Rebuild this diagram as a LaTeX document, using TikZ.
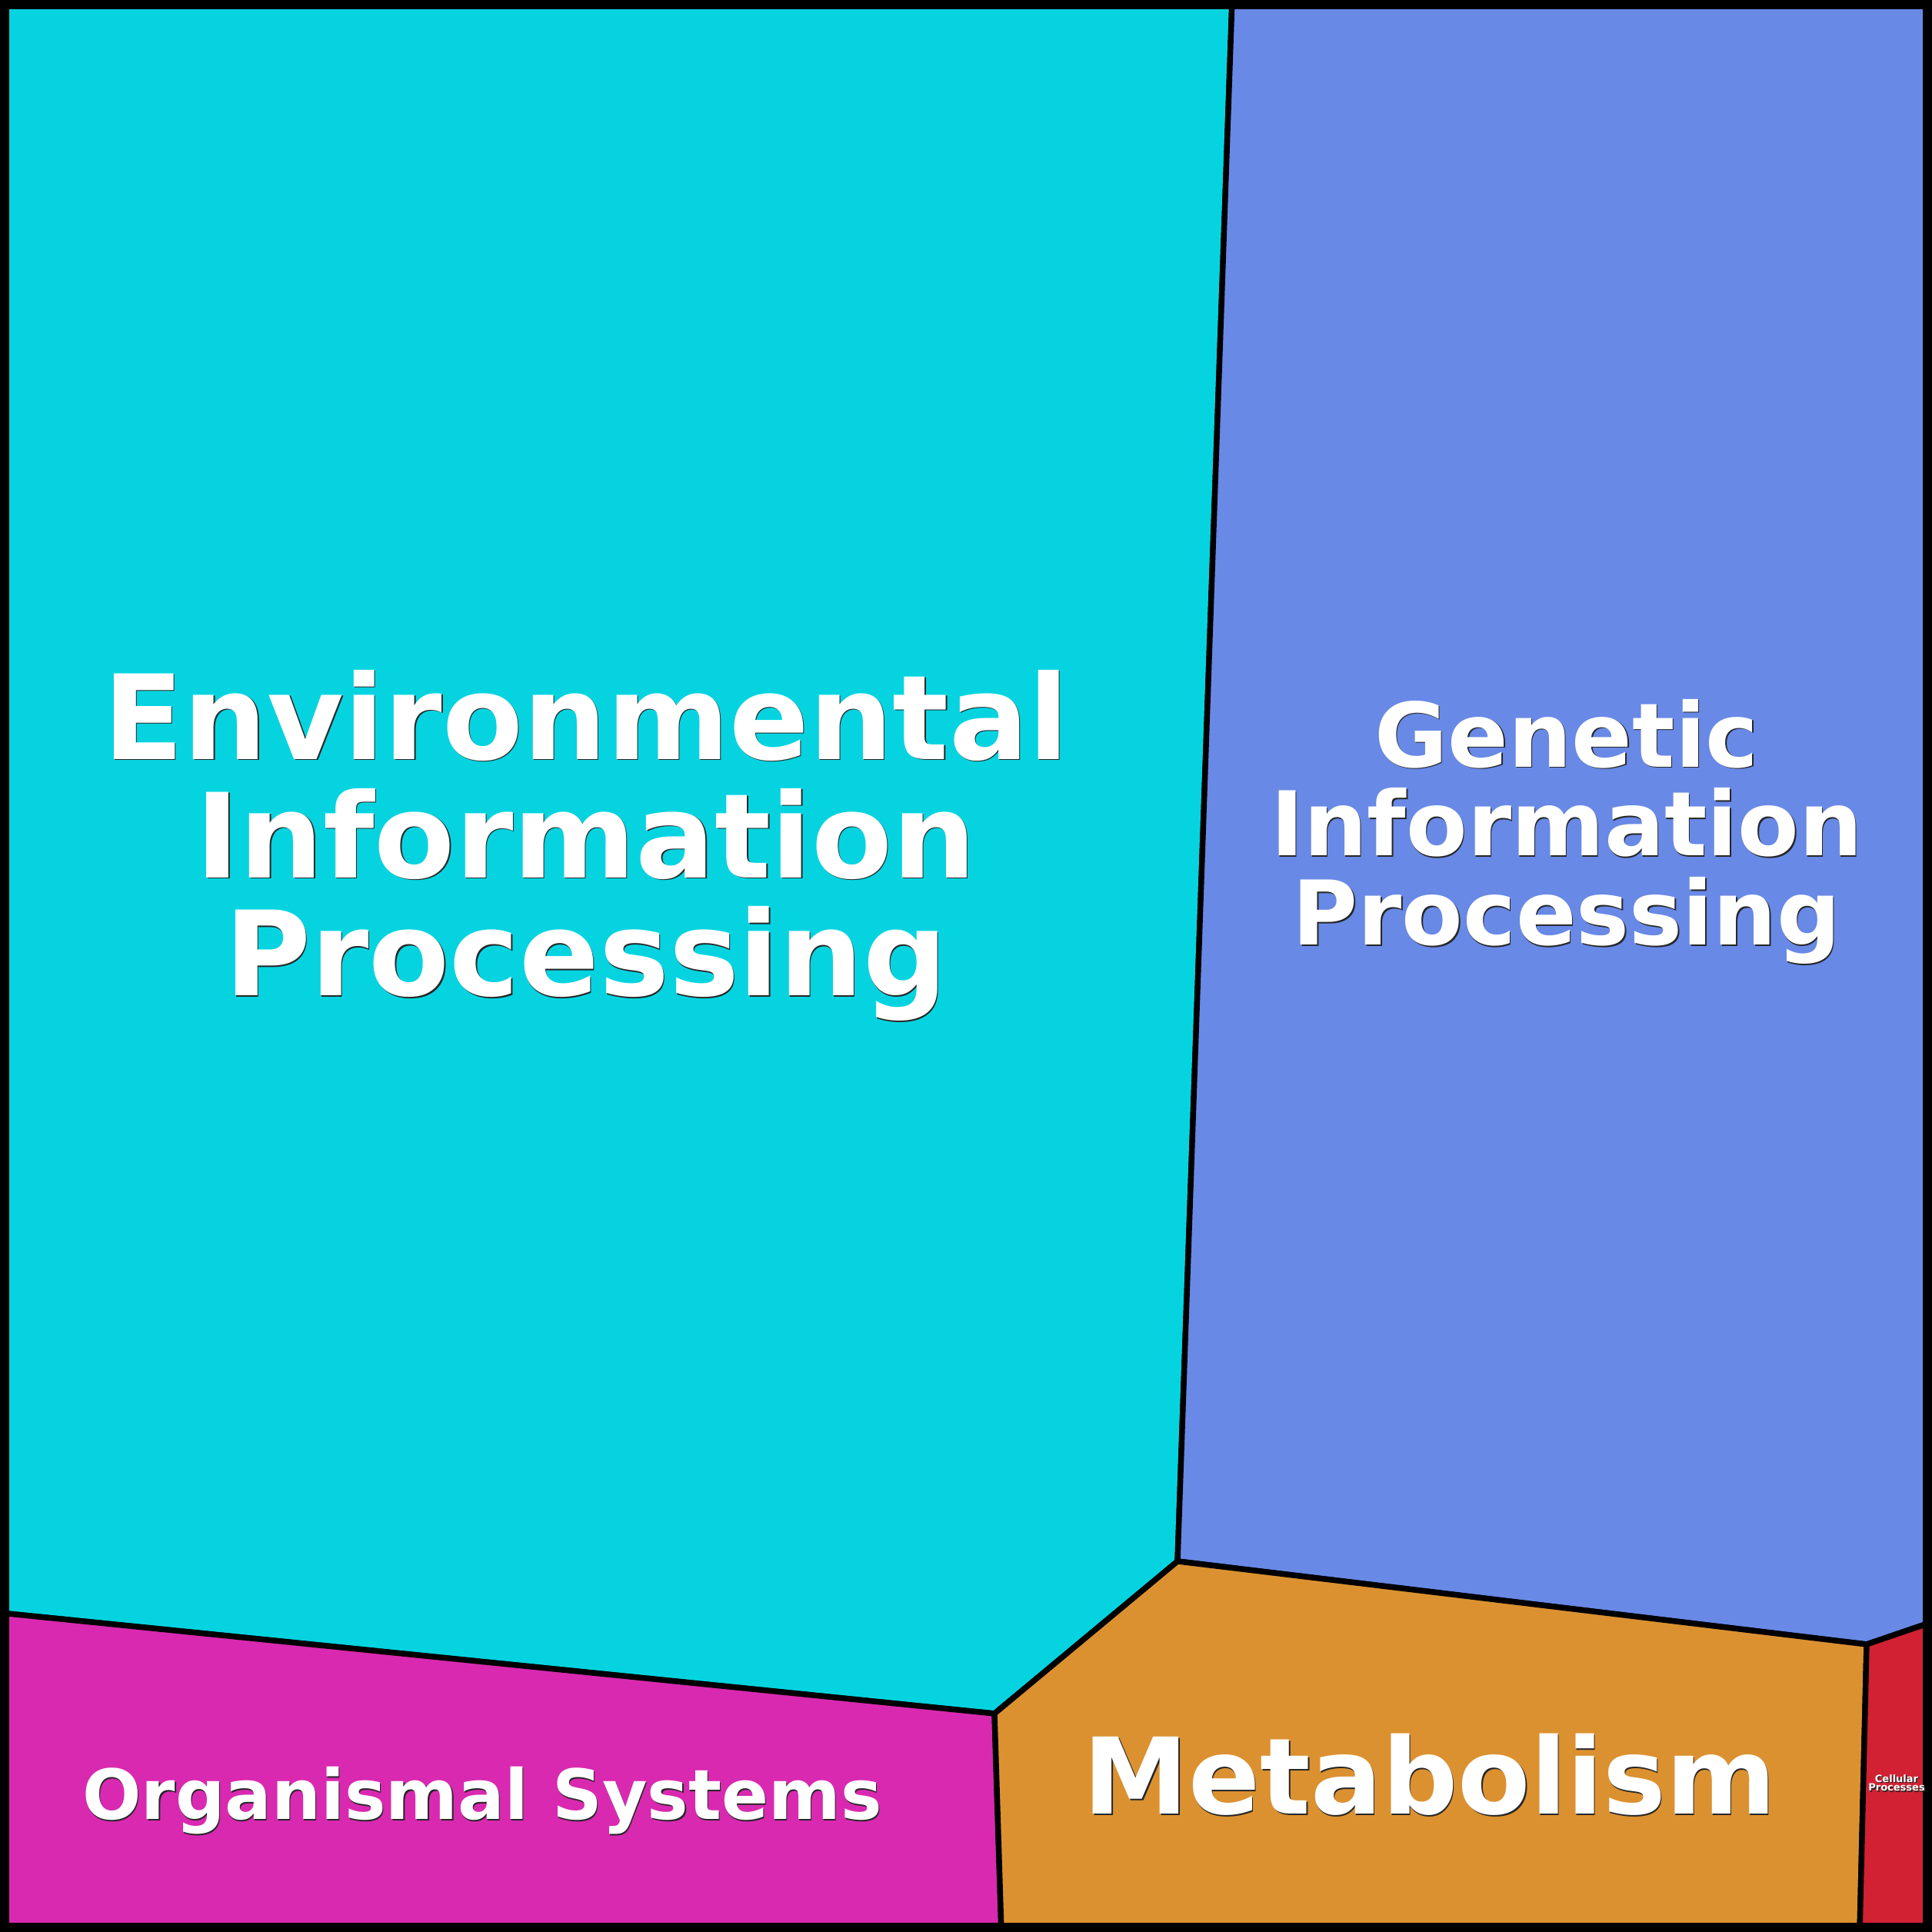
\documentclass[tikz,border=0pt]{standalone}
\usepackage{fontspec}
\setmainfont{DejaVu Sans}

\definecolor{envcyan}{RGB}{5,212,224}
\definecolor{genblue}{RGB}{104,137,229}
\definecolor{orgpink}{RGB}{217,41,176}
\definecolor{metorange}{RGB}{220,145,48}
\definecolor{cellred}{RGB}{210,33,51}

\newcommand{\Label}[4]{%
  \node[lbl, text=black!85, font=#1, xshift=0.4pt, yshift=-0.4pt] at (#3) {#4};
  \node[lbl, font=#1] (#2) at (#3) {#4};}

\begin{document}
\begin{tikzpicture}[
  region/.style={draw=black, line width=2.1pt},
  lbl/.style={text=white, align=center, inner sep=0pt, anchor=base}]

  \useasboundingbox (0,0) rectangle (25.12,25.12);

  \coordinate (bl) at (0,0);
  \coordinate (br) at (25.12,0);
  \coordinate (tr) at (25.12,25.12);
  \coordinate (tl) at (0,25.12);
  \coordinate (top) at (16.02,25.12);
  \coordinate (lft) at (0,4.15);
  \coordinate (rgt) at (25.12,4.03);
  \coordinate (bot1) at (13.02,0);
  \coordinate (bot2) at (24.18,0);
  \coordinate (j1) at (15.31,4.82);
  \coordinate (j2) at (12.93,2.84);
  \coordinate (j3) at (24.27,3.74);

  \filldraw[region, fill=envcyan] (tl) -- (top) -- (j1) -- (j2) -- (lft) -- cycle;
  \filldraw[region, fill=genblue] (top) -- (tr) -- (rgt) -- (j3) -- (j1) -- cycle;
  \filldraw[region, fill=orgpink] (lft) -- (j2) -- (bot1) -- (bl) -- cycle;
  \filldraw[region, fill=metorange] (j2) -- (j1) -- (j3) -- (bot2) -- (bot1) -- cycle;
  \filldraw[region, fill=cellred] (j3) -- (rgt) -- (br) -- (bot2) -- cycle;

  \draw[line width=0.24cm] (bl) rectangle (tr);

  \Label{\bfseries\fontsize{43.5pt}{43.8pt}\selectfont}{env}{7.62,12.17}{Environmental\\Information\\Processing}
  \Label{\bfseries\fontsize{33pt}{33pt}\selectfont}{gen}{20.37,12.83}{Genetic\\Information\\Processing}
  \Label{\bfseries\fontsize{39.1pt}{39pt}\selectfont}{met}{18.59,1.53}{Metabolism}
  \Label{\bfseries\fontsize{25.6pt}{26pt}\selectfont}{org}{6.27,1.46}{Organismal Systems}
  \Label{\bfseries\fontsize{3.7pt}{3.4pt}\selectfont}{cell}{24.66,1.83}{Cellular\\Processes}
\end{tikzpicture}
\end{document}
